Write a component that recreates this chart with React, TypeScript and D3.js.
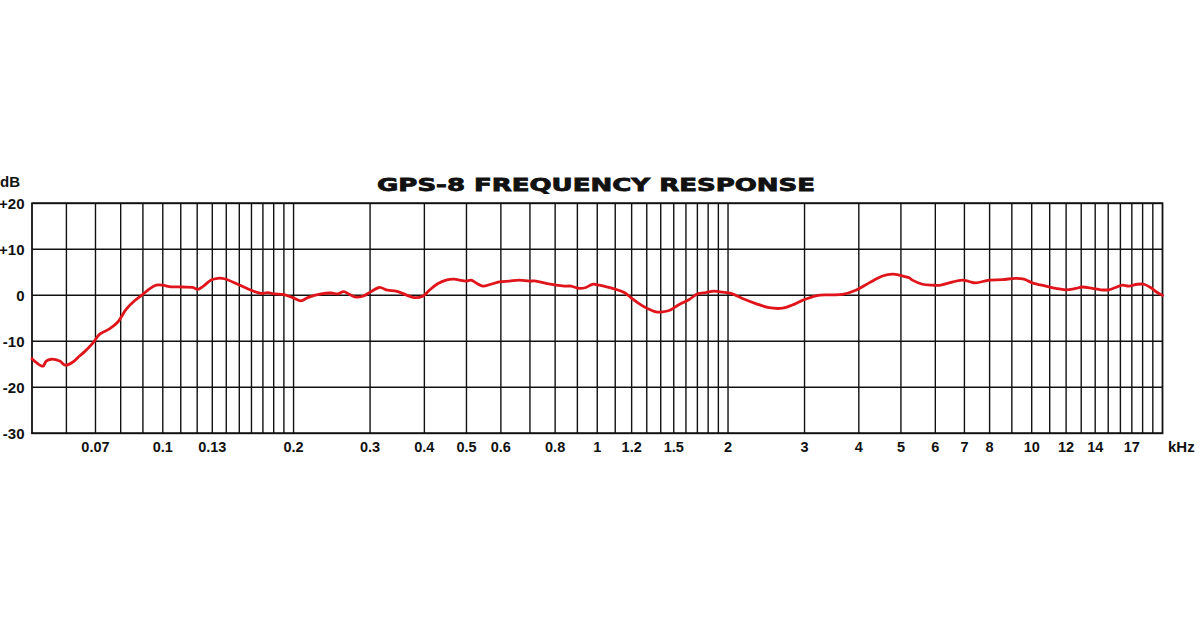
import React from "react";
import * as d3 from "d3";

// Frequency response (kHz, dB)
const freqs = [
  0.05, 0.0511, 0.053, 0.0539, 0.0554, 0.0579, 0.0597, 0.0621, 0.0643, 0.066,
  0.069, 0.0715, 0.0754, 0.0788, 0.0824, 0.0861, 0.09, 0.0932, 0.0966, 0.1,
  0.1036, 0.1112, 0.1172, 0.1204, 0.1236, 0.1292, 0.1338, 0.1387, 0.1488, 0.1597,
  0.1684, 0.1744, 0.1807, 0.1888, 0.199, 0.208, 0.2156, 0.2314, 0.244, 0.2527,
  0.2608, 0.2688, 0.2785, 0.2884, 0.3016, 0.3151, 0.3293, 0.3443, 0.363, 0.3793,
  0.3964, 0.4107, 0.4292, 0.4487, 0.4688, 0.4814, 0.4989, 0.5123, 0.526, 0.5446,
  0.5694, 0.595, 0.6274, 0.6615, 0.6975, 0.7228, 0.7621, 0.8035, 0.84, 0.87,
  0.909, 0.942, 0.975, 1.011, 1.056, 1.104, 1.154, 1.195, 1.238, 1.294,
  1.365, 1.413, 1.464, 1.544, 1.628, 1.701, 1.778, 1.858, 1.942, 2.031,
  2.159, 2.317, 2.487, 2.669, 2.814, 2.967, 3.185, 3.418, 3.667, 3.936,
  4.224, 4.534, 4.78, 5.04, 5.222, 5.314, 5.603, 5.907, 6.176, 6.454,
  6.924, 7.174, 7.434, 7.979, 8.557, 9.188, 9.6, 10.03, 10.77, 11.36,
  11.97, 12.63, 13.08, 13.79, 14.41, 15.06, 15.61, 16.16, 16.74, 17.5,
  18.13, 18.78, 19.45, 19.81, 20,
];
const levels = [
  -13.8, -14.6, -15.4, -14.3, -13.9, -14.3, -15.2, -14.5, -13.2, -12.3,
  -10.4, -8.5, -7.3, -5.8, -3.0, -1.2, 0.2, 1.4, 2.2, 2.2,
  1.9, 1.8, 1.7, 1.3, 1.9, 3.3, 3.7, 3.6, 2.4, 1.1,
  0.4, 0.6, 0.3, 0.2, -0.5, -1.2, -0.5, 0.3, 0.5, 0.3,
  0.8, 0.2, -0.4, -0.2, 0.8, 1.7, 1.1, 0.9, 0.1, -0.5,
  -0.2, 1.1, 2.5, 3.3, 3.5, 3.3, 3.1, 3.3, 2.7, 2.0,
  2.4, 2.9, 3.1, 3.3, 3.1, 3.1, 2.6, 2.2, 2.0, 2.0,
  1.5, 1.7, 2.4, 2.2, 1.8, 1.3, 0.6, -0.5, -1.6, -2.7,
  -3.6, -3.6, -3.3, -2.0, -0.9, 0.3, 0.6, 0.9, 0.7, 0.4,
  -0.7, -1.8, -2.7, -2.8, -2.1, -1.1, -0.1, 0.1, 0.2, 1.1,
  2.7, 4.2, 4.6, 4.2, 3.8, 3.3, 2.4, 2.2, 2.2, 2.7,
  3.3, 3.0, 2.7, 3.3, 3.4, 3.7, 3.5, 2.7, 2.0, 1.5,
  1.2, 1.5, 1.8, 1.5, 1.2, 1.2, 1.7, 2.2, 2.0, 2.4,
  2.4, 1.7, 0.6, 0.2, 0.0,
];

const gridFreqs = [
  0.06, 0.07, 0.08, 0.09, 0.1, 0.11, 0.12, 0.13, 0.14, 0.15, 0.16, 0.17, 0.18, 0.19, 0.2,
  0.3, 0.4, 0.5, 0.6, 0.7, 0.8, 0.9, 1,
  1.1, 1.2, 1.3, 1.4, 1.5, 1.6, 1.7, 1.8, 1.9, 2,
  3, 4, 5, 6, 7, 8, 9, 10,
  11, 12, 13, 14, 15, 16, 17, 18, 19,
];
const xTickLabels = [
  "0.07", "0.1", "0.13", "0.2", "0.3", "0.4", "0.5", "0.6", "0.8", "1", "1.2",
  "1.5", "2", "3", "4", "5", "6", "7", "8", "10", "12", "14", "17",
];
const yTicks = [20, 10, 0, -10, -20, -30];
const yTickLabels = ["+20", "+10", "0", "-10", "-20", "-30"];
const title = "GPS-8 FREQUENCY RESPONSE";

export default function App() {
  const W = 1200, H = 628;
  const x = d3.scaleLog().domain([0.05, 20]).range([32, 1162.5]);
  const y = d3.scaleLinear().domain([-30, 20]).range([433.3, 203.3]);
  const pts: [number, number][] = freqs.map((f, i) => [f, levels[i]]);
  const line = d3
    .line<[number, number]>()
    .x((d) => x(d[0]))
    .y((d) => y(d[1]))
    .curve(d3.curveCatmullRom.alpha(0.5));
  const font = "'Liberation Sans', Arial, sans-serif";
  return (
    <svg
      width={W}
      height={H}
      viewBox={`0 0 ${W} ${H}`}
      style={{ position: "absolute", left: 0, top: 0, background: "#fff" }}
    >
      <rect x={0} y={0} width={W} height={H} fill="#fff" />
      {/* vertical grid */}
      {gridFreqs.map((f) => (
        <line key={"v" + f} x1={x(f)} x2={x(f)} y1={y(20)} y2={y(-30)} stroke="#111" strokeWidth={1.4} />
      ))}
      {/* horizontal grid */}
      {yTicks.map((t) => (
        <line key={"h" + t} x1={x(0.05)} x2={x(20)} y1={y(t)} y2={y(t)} stroke="#111" strokeWidth={1.4} />
      ))}
      <rect
        x={x(0.05)}
        y={y(20)}
        width={x(20) - x(0.05)}
        height={y(-30) - y(20)}
        fill="none"
        stroke="#111"
        strokeWidth={1.8}
      />
      {/* response curve */}
      <path d={line(pts) || ""} fill="none" stroke="#e0151b" strokeWidth={2.8} strokeLinejoin="round" strokeLinecap="round" />
      {/* y labels */}
      {yTicks.map((t, i) => (
        <text
          key={"yl" + t}
          x={24.5}
          y={y(t)}
          dy="0.36em"
          textAnchor="end"
          fontFamily={font}
          fontWeight="bold"
          fontSize={15}
          fill="#111"
        >
          {yTickLabels[i]}
        </text>
      ))}
      <text x={0} y={187} fontFamily={font} fontWeight="bold" fontSize={15} fill="#111">
        dB
      </text>
      {/* x labels */}
      {xTickLabels.map((l) => (
        <text
          key={"xl" + l}
          x={x(parseFloat(l))}
          y={452}
          textAnchor="middle"
          fontFamily={font}
          fontWeight="bold"
          fontSize={14.5}
          fill="#111"
        >
          {l}
        </text>
      ))}
      <text x={1168} y={452} fontFamily={font} fontWeight="bold" fontSize={15} fill="#111">
        kHz
      </text>
      {/* title */}
      <text
        x={377}
        y={191}
        textLength={438}
        lengthAdjust="spacingAndGlyphs"
        fontFamily="'DejaVu Sans', sans-serif"
        fontWeight="bold"
        fontSize={17.5}
        fill="#111"
        stroke="#111"
        strokeWidth={0.8}
      >
        {title}
      </text>
    </svg>
  );
}
